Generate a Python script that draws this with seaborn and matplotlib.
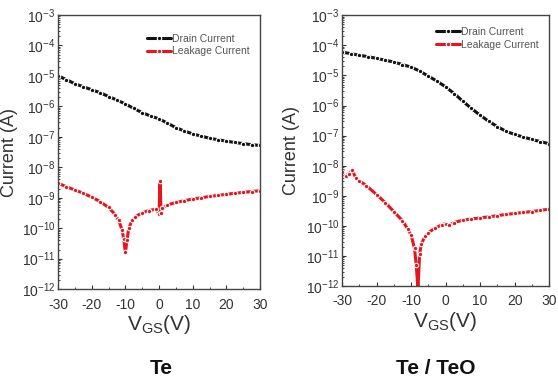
import numpy as np
import pandas as pd
import matplotlib
matplotlib.use("Agg")
import matplotlib.pyplot as plt
import seaborn as sns
from matplotlib.ticker import LogLocator, MultipleLocator, NullFormatter

sns.set_style("ticks")
plt.rcParams['font.family'] = ['Liberation Sans', 'DejaVu Sans']
plt.rcParams['mathtext.fontset'] = 'custom'
plt.rcParams['mathtext.rm'] = 'Liberation Sans'
plt.rcParams['axes.unicode_minus'] = False

# ---- data: Te ----
te_drain_v = [-30, -27.5, -25, -22.5, -20, -17.5, -15, -12.5, -10, -7.5, -5, -2.5, 0,
              2.5, 5, 7.5, 10, 12.5, 15, 17.5, 20, 22.5, 25, 27.5, 30]
te_drain_i = [1.0e-5, 7.5e-6, 5.5e-6, 4.4e-6, 3.5e-6, 2.8e-6, 2.1e-6, 1.6e-6, 1.2e-6,
              8.5e-7, 6.2e-7, 4.8e-7, 3.9e-7, 2.8e-7, 2.0e-7, 1.55e-7, 1.25e-7, 1.05e-7,
              9.0e-8, 8.0e-8, 7.2e-8, 6.5e-8, 6.0e-8, 5.5e-8, 5.2e-8]
te_leak_v = [-30, -27.5, -25, -22.5, -20, -17.5, -15, -13, -12, -11, -10.5, -10, -9.5, -9,
             -8, -7, -5, -3, -1, 0, 0.3, 0.6, 1, 2.5, 5, 7.5, 10, 12.5, 15, 17.5, 20,
             22.5, 25, 27.5, 30]
te_leak_i = [3.0e-9, 2.3e-9, 1.8e-9, 1.4e-9, 1.05e-9, 7.5e-10, 4.8e-10, 2.8e-10, 1.8e-10,
             9e-11, 4.5e-11, 1.6e-11, 4e-11, 1.0e-10, 1.8e-10, 2.4e-10, 3.2e-10, 3.8e-10,
             4.2e-10, 3.0e-10, 3.5e-9, 3.2e-10, 4.5e-10, 5.8e-10, 7e-10, 8e-10, 9e-10,
             1.0e-9, 1.1e-9, 1.2e-9, 1.3e-9, 1.4e-9, 1.5e-9, 1.6e-9, 1.7e-9]

# ---- data: Te / TeO ----
teo_drain_v = te_drain_v
teo_drain_i = [6.0e-5, 5.3e-5, 4.7e-5, 4.2e-5, 3.7e-5, 3.2e-5, 2.8e-5, 2.3e-5, 1.9e-5,
               1.4e-5, 9.5e-6, 6.5e-6, 4.2e-6, 2.5e-6, 1.4e-6, 8.0e-7, 4.8e-7, 3.0e-7,
               2.0e-7, 1.4e-7, 1.1e-7, 9.0e-8, 7.5e-8, 6.3e-8, 5.4e-8]
teo_leak_v = [-30, -29, -28, -27, -26, -25, -23, -20, -17.5, -15, -12.5, -11, -10, -9,
              -8.5, -8, -7.5, -7, -6, -5, -3, -1, 0, 1, 2.5, 5, 7.5, 10, 12.5, 15, 17.5,
              20, 22.5, 25, 27.5, 30]
teo_leak_i = [6e-9, 4.5e-9, 5.5e-9, 7e-9, 3.8e-9, 3.2e-9, 2.2e-9, 1.1e-9, 6e-10, 3e-10,
              1.5e-10, 8e-11, 5e-11, 1.8e-11, 5e-12, 8e-13, 1.2e-11, 2.5e-11, 4.5e-11,
              6e-11, 8.5e-11, 1.1e-10, 1.2e-10, 1.05e-10, 1.3e-10, 1.55e-10, 1.7e-10,
              1.85e-10, 2.0e-10, 2.2e-10, 2.4e-10, 2.6e-10, 2.8e-10, 3.0e-10, 3.3e-10,
              3.6e-10]

x_ticks = [-30, -20, -10, 0, 10, 20, 30]
titles = ["Te", "Te / TeO"]
series_names = ["Drain Current", "Leakage Current"]

def frame(v, i, name):
    return pd.DataFrame({"V": v, "I": i, "series": name})

panels = [
    pd.concat([frame(te_drain_v, te_drain_i, series_names[0]),
               frame(te_leak_v, te_leak_i, series_names[1])]),
    pd.concat([frame(teo_drain_v, teo_drain_i, series_names[0]),
               frame(teo_leak_v, teo_leak_i, series_names[1])]),
]

fig = plt.figure(figsize=(5.58, 3.82), dpi=100)
positions = [[0.104, 0.243, 0.362, 0.718], [0.613, 0.251, 0.371, 0.709]]
legend_anchor = [(1.0, 0.97), (1.0, 0.995)]
title_x = [161 / 558, 436 / 558]
ylabel_x = [18 / 558, 300 / 558]
palette = {series_names[0]: "#111111", series_names[1]: "#e8141c"}

for k, (df, pos, title) in enumerate(zip(panels, positions, titles)):
    ax = fig.add_axes(pos)
    sns.lineplot(data=df, x="V", y="I", hue="series", palette=palette, ax=ax,
                 marker="o", markersize=3.2, markeredgewidth=0.8, linewidth=2.2,
                 sort=False, estimator=None)
    ax.set_yscale("log")
    ax.set_ylim(1e-12, 1e-3)
    ax.set_xlim(-30, 30)
    ax.set_xticks(x_ticks)
    ax.xaxis.set_minor_locator(MultipleLocator(5))
    ax.yaxis.set_major_locator(LogLocator(base=10, numticks=20))
    ax.yaxis.set_minor_locator(LogLocator(base=10, subs=np.arange(2, 10), numticks=20))
    ax.yaxis.set_minor_formatter(NullFormatter())
    ax.tick_params(axis="both", which="major", direction="in", length=3, width=0.8,
                   labelsize=10, colors="#333333")
    ax.tick_params(axis="y", which="major", pad=2)
    ax.tick_params(axis="x", which="major", pad=6)
    ax.tick_params(axis="both", which="minor", direction="in", length=1.5, width=0.6)
    for s in ax.spines.values():
        s.set_color("#444444")
        s.set_linewidth(1.0)
    ax.set_ylabel("Current (A)", fontsize=13, color="#333333")
    ax.yaxis.set_label_coords(ylabel_x[k], pos[1] + pos[3] / 2, transform=fig.transFigure)
    ax.set_xlabel(r"V$_{\mathregular{GS}}$(V)", fontsize=15, color="#333333", labelpad=1)
    leg = ax.legend(loc="upper right", bbox_to_anchor=legend_anchor[k], frameon=False,
                    fontsize=7.5, handlelength=2.3, borderaxespad=0.6, labelspacing=0.25,
                    handletextpad=0.1)
    for t in leg.get_texts():
        t.set_color("#555555")
    fig.text(title_x[k], 1 - 368 / 382, title, ha="center", va="center",
             fontsize=15, fontweight="bold", color="#111111")

fig.savefig("out.png", dpi=100)
